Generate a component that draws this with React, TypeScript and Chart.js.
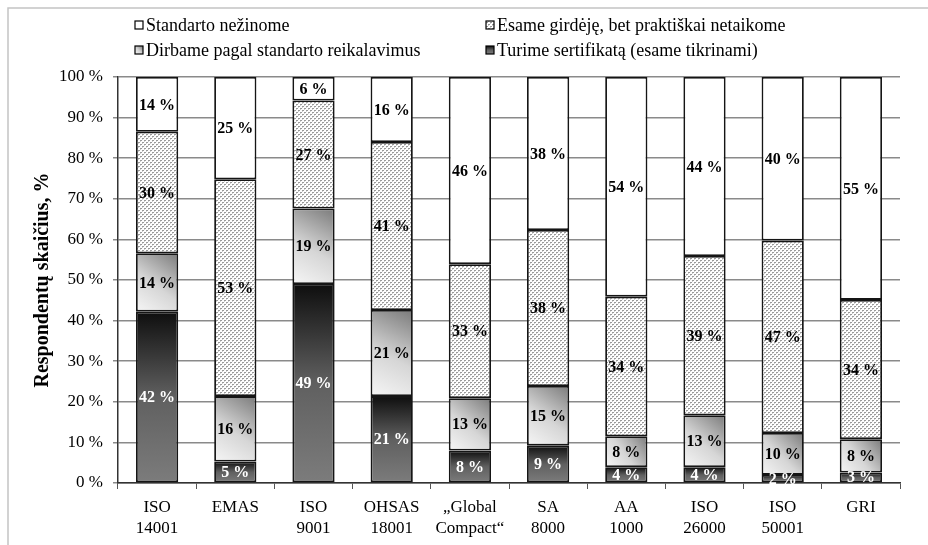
import React, { useEffect, useRef } from 'react';
import { Chart, registerables } from 'chart.js';

Chart.register(...registerables);

const categories: (string | string[])[] = [
  ['ISO', '14001'], 'EMAS', ['ISO', '9001'], ['OHSAS', '18001'], ['„Global', 'Compact“'],
  ['SA', '8000'], ['AA', '1000'], ['ISO', '26000'], ['ISO', '50001'], 'GRI',
];
const seriesNames = [
  'Turime sertifikatą (esame tikrinami)',
  'Dirbame pagal standarto reikalavimus',
  'Esame girdėję, bet praktiškai netaikome',
  'Standarto nežinome',
];
const certified = [42.2, 5.3, 49.0, 21.4, 8.0, 9.2, 3.9, 3.9, 2.0, 2.6];
const working = [14.4, 16.1, 18.6, 21.2, 12.9, 14.7, 7.6, 12.8, 10.3, 8.2];
const heard = [29.9, 53.4, 26.6, 41.4, 33.0, 38.4, 34.4, 39.2, 47.4, 34.3];
const unknown = [13.5, 25.2, 5.8, 16.0, 46.1, 37.7, 54.1, 44.1, 40.3, 54.9];
const yMin = 0;
const yMax = 100;
const yStep = 10;
const yTitle = 'Respondentų skaičius, %';

const allSeries = [certified, working, heard, unknown];
const BAR_PCT = 0.54;
const FONT = '"Liberation Serif", "Times New Roman", serif';

function makeHatch(): CanvasPattern | string {
  const c = document.createElement('canvas');
  c.width = 4;
  c.height = 4;
  const g = c.getContext('2d');
  if (!g) return '#ddd';
  g.fillStyle = '#ffffff';
  g.fillRect(0, 0, 4, 4);
  g.fillStyle = '#9a9a9a';
  g.fillRect(0, 0, 2, 1);
  g.fillRect(2, 2, 2, 1);
  g.fillStyle = '#d0d0d0';
  g.fillRect(0, 1, 1, 1);
  g.fillRect(2, 3, 1, 1);
  const p = g.createPattern(c, 'repeat');
  return p || '#ddd';
}

function bounds(chart: any, di: number, idx: number) {
  const xs = chart.scales.x;
  const ys = chart.scales.y;
  let start = 0;
  for (let i = 0; i < di; i++) start += allSeries[i][idx];
  const end = start + allSeries[di][idx];
  const cx = xs.getPixelForValue(idx);
  const w = ((xs.right - xs.left) / categories.length) * BAR_PCT;
  return {
    left: cx - w / 2,
    right: cx + w / 2,
    top: ys.getPixelForValue(end),
    bottom: ys.getPixelForValue(start),
  };
}

function darkGrad(g: CanvasRenderingContext2D, top: number, bottom: number) {
  const gr = g.createLinearGradient(0, top, 0, bottom);
  gr.addColorStop(0, '#0e0e0e');
  gr.addColorStop(0.5, '#606060');
  gr.addColorStop(1, '#7c7c7c');
  return gr;
}

function greyGrad(g: CanvasRenderingContext2D, l: number, t: number, r: number, b: number) {
  const gr = g.createLinearGradient(l, b, r, t);
  gr.addColorStop(0, '#f6f6f6');
  gr.addColorStop(0.45, '#d6d6d6');
  gr.addColorStop(1, '#7a7a7a');
  return gr;
}

export default function App() {
  const ref = useRef<HTMLCanvasElement | null>(null);

  useEffect(() => {
    const canvas = ref.current;
    if (!canvas) return;
    const hatch = makeHatch();

    const bgFor = (di: number) => (ctx: any) => {
      const chart = ctx.chart;
      if (ctx.type !== 'data' || !chart.chartArea) {
        return di === 0 ? '#444' : di === 1 ? '#bbb' : di === 2 ? hatch : '#fff';
      }
      const b = bounds(chart, di, ctx.dataIndex);
      const g = chart.ctx as CanvasRenderingContext2D;
      if (di === 0) return darkGrad(g, b.top, b.bottom);
      if (di === 1) return greyGrad(g, b.left, b.top, b.right, b.bottom);
      if (di === 2) return hatch;
      return '#ffffff';
    };

    const framePlugin = {
      id: 'frame',
      beforeDraw(chart: any) {
        const g = chart.ctx as CanvasRenderingContext2D;
        g.save();
        g.fillStyle = '#ffffff';
        g.fillRect(0, 0, chart.width, chart.height);
        g.strokeStyle = '#c4c4c4';
        g.lineWidth = 1.5;
        g.beginPath();
        g.moveTo(8, chart.height);
        g.lineTo(8, 8);
        g.lineTo(chart.width, 8);
        g.stroke();
        g.restore();
      },
    };

    const labelPlugin = {
      id: 'segLabels',
      afterDatasetsDraw(chart: any) {
        const g = chart.ctx as CanvasRenderingContext2D;
        g.save();
        g.font = `bold 16px ${FONT}`;
        g.textAlign = 'center';
        g.textBaseline = 'middle';
        chart.data.datasets.forEach((ds: any, di: number) => {
          const meta = chart.getDatasetMeta(di);
          meta.data.forEach((el: any, i: number) => {
            const v = ds.data[i];
            const cy = (el.y + el.base) / 2;
            g.fillStyle = di === 0 ? '#ffffff' : '#000000';
            g.fillText(`${Math.round(v)} %`, el.x, cy + 1);
          });
        });
        g.restore();
      },
    };

    const legendPlugin = {
      id: 'customLegend',
      afterDraw(chart: any) {
        const g = chart.ctx as CanvasRenderingContext2D;
        const items = [
          { di: 3, x: 135, y: 25 },
          { di: 2, x: 486, y: 25 },
          { di: 1, x: 135, y: 50 },
          { di: 0, x: 486, y: 50 },
        ];
        g.save();
        g.font = `18px ${FONT}`;
        g.textBaseline = 'middle';
        g.textAlign = 'left';
        items.forEach((it) => {
          const s = 8;
          const l = it.x, t = it.y - s / 2;
          let fill: any = '#fff';
          if (it.di === 0) fill = darkGrad(g, t, t + s);
          else if (it.di === 1) fill = greyGrad(g, l, t, l + s, t + s);
          else if (it.di === 2) fill = hatch;
          g.fillStyle = fill;
          g.fillRect(l, t, s, s);
          g.strokeStyle = '#000';
          g.lineWidth = 1.2;
          g.strokeRect(l, t, s, s);
          g.fillStyle = '#000';
          g.fillText(seriesNames[it.di], l + 11, it.y + 1);
        });
        g.restore();
      },
    };

    const chart = new Chart(canvas, {
      type: 'bar',
      data: {
        labels: categories as any,
        datasets: allSeries.map((arr, di) => ({
          label: seriesNames[di],
          data: arr,
          backgroundColor: bgFor(di) as any,
          borderColor: '#151515',
          borderWidth: 1.8,
          borderSkipped: false,
          barPercentage: BAR_PCT,
          categoryPercentage: 1,
        })),
      },
      options: {
        responsive: false,
        animation: false,
        devicePixelRatio: 1,
        layout: { padding: { left: 0, top: 77, right: 28, bottom: 0 } },
        plugins: {
          legend: { display: false },
          tooltip: { enabled: false },
          title: { display: false },
        },
        scales: {
          x: {
            stacked: true,
            offset: true,
            grid: {
              display: true,
              offset: true,
              drawOnChartArea: false,
              drawTicks: true,
              tickLength: 6,
              color: '#555',
              lineWidth: 1,
            },
            border: { display: true, color: '#333', width: 1.5 },
            ticks: {
              color: '#000',
              font: { family: FONT, size: 17, lineHeight: 1.25 },
              padding: 8,
              maxRotation: 0,
              autoSkip: false,
            },
            afterFit(scale: any) {
              scale.height = 62;
            },
          },
          y: {
            stacked: true,
            min: yMin,
            max: yMax,
            grid: {
              color: '#8a8a8a',
              lineWidth: 1.5,
              drawTicks: true,
              tickLength: 5,
            },
            border: { display: true, color: '#333', width: 1.5 },
            ticks: {
              stepSize: yStep,
              color: '#000',
              font: { family: FONT, size: 17 },
              padding: 10,
              callback: (v: any) => `${v} %`,
            },
            title: {
              display: true,
              text: yTitle,
              color: '#000',
              font: { family: FONT, size: 20, weight: 'bold' },
              padding: { top: 31, bottom: 0 },
            },
            afterFit(scale: any) {
              scale.width = 118;
            },
          },
        },
      },
      plugins: [framePlugin, labelPlugin, legendPlugin],
    });

    return () => chart.destroy();
  }, []);

  return (
    <div style={{ position: 'fixed', left: 0, top: 0, width: 928, height: 545, background: '#fff' }}>
      <canvas ref={ref} width={928} height={545} style={{ display: 'block', width: 928, height: 545 }} />
    </div>
  );
}
